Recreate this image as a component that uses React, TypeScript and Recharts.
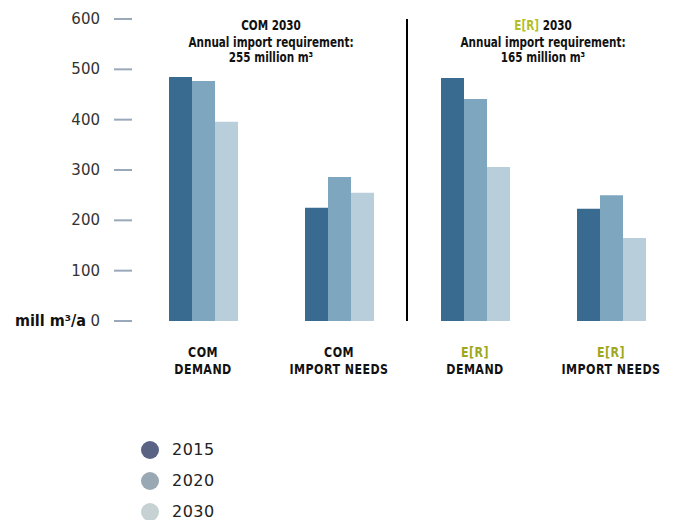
import React from "react";
import {
  BarChart,
  Bar,
  XAxis,
  YAxis,
  Legend,
  ReferenceLine,
  ReferenceArea,
} from "recharts";

const categories = ["COM DEMAND", "COM IMPORT NEEDS", "E[R] DEMAND", "E[R] IMPORT NEEDS"];
const years = ["2015", "2020", "2030"];
const values2015 = [485, 225, 483, 223];
const values2020 = [477, 286, 441, 250];
const values2030 = [396, 255, 306, 165];
const yTicks = [0, 100, 200, 300, 400, 500, 600];
const scenarios = ["COM", "E[R]"];
const importRequirement = [255, 165];

const BAR_COLORS = ["#386b8f", "#7ea6bf", "#b9cedb"];
const LEGEND_COLORS = ["#5b6385", "#9aa8b3", "#c6d1d4"];
const GREEN = "#9ea722";
const NARROW = "'Liberation Sans Narrow', 'DejaVu Sans Condensed', sans-serif";
const PLAIN = "'DejaVu Sans', sans-serif";

const data = categories.map((name, i) => ({
  name,
  y2015: values2015[i],
  y2020: values2020[i],
  y2030: values2030[i],
}));

function splitLabel(name: string) {
  const idx = name.indexOf(" ");
  return [name.slice(0, idx), name.slice(idx + 1)];
}

function YTick({ x, y, payload }: any) {
  return (
    <g>
      <line x1={x - 21} x2={x - 3} y1={y} y2={y} stroke="#9aa9ba" strokeWidth={2} />
      <text x={x - 35} y={y} dy={5} textAnchor="end" fontFamily={PLAIN} fontSize={15} fill="#333">
        {payload.value}
      </text>
      {payload.value === 0 && (
        <text x={x - 49} y={y} dy={5} textAnchor="end" fontFamily={NARROW} fontWeight="bold" fontSize={16} fill="#111">
          mill m³/a
        </text>
      )}
    </g>
  );
}

function XTick({ x, y, payload }: any) {
  const [top, bottom] = splitLabel(payload.value);
  return (
    <g
      transform={`translate(${x},${y}) scale(0.88,1)`}
      fontFamily={NARROW}
      fontWeight="bold"
      fontSize={14}
      letterSpacing={0.5}
      textAnchor="middle"
    >
      <text x={0} y={36} fill={top === "E[R]" ? GREEN : "#111"}>
        {top}
      </text>
      <text x={0} y={53} fill="#111">
        {bottom}
      </text>
    </g>
  );
}

function makeTitle(i: number) {
  return ({ viewBox }: any) => {
    const cx = viewBox.x + viewBox.width / 2;
    const y = viewBox.y;
    return (
      <g
        transform={`translate(${cx},${y}) scale(0.83,1)`}
        fontFamily={NARROW}
        fontWeight="bold"
        fontSize={14}
        fill="#111"
        textAnchor="middle"
      >
        <text x={0} y={11}>
          <tspan fill={scenarios[i] === "E[R]" ? "#b4bf28" : "#111"}>{scenarios[i]}</tspan>
          <tspan> 2030</tspan>
        </text>
        <text x={0} y={28}>Annual import requirement:</text>
        <text x={0} y={43}>{importRequirement[i]} million m³</text>
      </g>
    );
  };
}

function LegendContent() {
  return (
    <div>
      {years.map((yr, i) => (
        <div key={yr} style={{ display: "flex", alignItems: "center", height: 31 }}>
          <span
            style={{
              display: "inline-block",
              width: 18,
              height: 18,
              borderRadius: 9,
              background: LEGEND_COLORS[i],
              marginRight: 13,
            }}
          />
          <span style={{ fontFamily: PLAIN, fontSize: 16, color: "#222", letterSpacing: 0.5 }}>{yr}</span>
        </div>
      ))}
    </div>
  );
}

export default function App() {
  return (
    <div style={{ position: "absolute", left: 0, top: 0, width: 674, height: 520, overflow: "hidden", background: "#fff" }}>
      <BarChart
        width={690}
        height={520}
        data={data}
        margin={{ top: 19, right: 11, left: 0, bottom: 139 }}
        barCategoryGap={34}
        barGap={0}
      >
        <YAxis
          width={135}
          domain={[0, 600]}
          ticks={yTicks}
          axisLine={false}
          tickLine={false}
          tickSize={0}
          tickMargin={0}
          tick={<YTick />}
          interval={0}
        />
        <XAxis
          dataKey="name"
          height={60}
          axisLine={false}
          tickLine={false}
          tickSize={0}
          tickMargin={0}
          tick={<XTick />}
          interval={0}
        />
        <ReferenceArea x1={categories[0]} x2={categories[1]} fill="none" fillOpacity={0} label={makeTitle(0)} />
        <ReferenceArea x1={categories[2]} x2={categories[3]} fill="none" fillOpacity={0} label={makeTitle(1)} />
        <ReferenceLine x={categories[2]} position="start" stroke="#000" strokeWidth={2} />
        <Bar dataKey="y2015" fill={BAR_COLORS[0]} isAnimationActive={false} />
        <Bar dataKey="y2020" fill={BAR_COLORS[1]} isAnimationActive={false} />
        <Bar dataKey="y2030" fill={BAR_COLORS[2]} isAnimationActive={false} />
        <Legend
          layout="vertical"
          align="center"
          verticalAlign="middle"
          content={<LegendContent />}
          wrapperStyle={{ top: 434, left: 141, width: 120 }}
        />
      </BarChart>
    </div>
  );
}
